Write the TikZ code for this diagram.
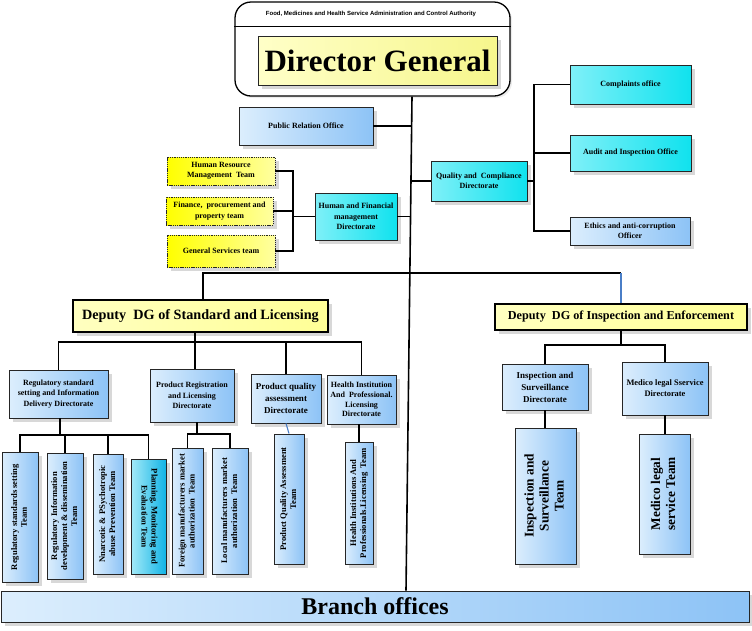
\documentclass[tikz,border=0pt]{standalone}
\usepackage{fontspec}
\setmainfont{Liberation Serif}
\newfontfamily\arialf{Liberation Sans}
\usepackage{graphicx}
\usetikzlibrary{shadows,calc}
\definecolor{bla}{HTML}{DCEEFD}
\definecolor{blb}{HTML}{8DC3F6}
\definecolor{cya}{HTML}{7FF0F8}
\definecolor{cyb}{HTML}{10E2EE}
\definecolor{pla}{HTML}{A4EAF8}
\definecolor{plb}{HTML}{12B4E6}
\definecolor{yla}{HTML}{FFFF00}
\definecolor{ylb}{HTML}{FFFFA0}
\definecolor{dpa}{HTML}{FFFFC0}
\definecolor{dpb}{HTML}{FFFF96}
\definecolor{dga}{HTML}{FFFFC8}
\definecolor{dgb}{HTML}{F6F68C}
\definecolor{thinblue}{HTML}{4A7EC7}
\newcommand{\fsz}[2]{\fontsize{#1}{#2}\selectfont}
\newcommand{\vtxt}[1]{\rotatebox{90}{\begin{tabular}{@{}c@{}}#1\end{tabular}}}
\newcommand{\vtxtr}[1]{\rotatebox{-90}{\begin{tabular}{@{}c@{}}#1\end{tabular}}}
\begin{document}
\begin{tikzpicture}[x=1pt,y=-1pt,
  sz/.style 2 args={minimum width=#1pt, minimum height=#2pt},
  base/.style={draw=black!85, line width=0.9pt, align=center, inner sep=1pt,
    font=\bfseries\fsz{8}{10.5},
    drop shadow={shadow xshift=3.5pt,shadow yshift=-3.5pt,fill=black!22,opacity=0.7}},
  bluebox/.style={base, left color=bla, right color=blb},
  cyanbox/.style={base, left color=cya, right color=cyb},
  planbox/.style={base, left color=pla, right color=plb},
  yelbox/.style={base, dash pattern=on 1.3pt off 0.9pt, left color=yla, right color=ylb},
  deputy/.style={base, draw=black, line width=2.6pt, left color=dpa, right color=dpb},
  vteam/.style={bluebox, font=\bfseries\fsz{8.6}{10}},
  conn/.style={line width=1.7pt, black},
  thinconn/.style={line width=1.1pt, thinblue}]
\useasboundingbox (0,0) rectangle (752,630);

% top block
\node[draw=black, line width=1.3pt, rounded corners=16pt, fill=white, sz={275}{94},
  drop shadow={shadow xshift=2pt,shadow yshift=-2pt,fill=black!15}] (top) at (372.5,49) {};
\coordinate (tl) at (372.5,26);
\draw[line width=0.8pt] (top.west |- tl) -- (top.east |- tl);
\node[font=\arialf\bfseries\fsz{6}{7}] (title) at (371,14) {Food, Medicines and Health Service Administration and Control Authority};
\node[base, left color=dga, right color=dgb, line width=0.8pt, sz={239}{49}, font=\bfseries\fsz{31}{34}] (dg) at (377.5,60.5) {Director General};

% upper offices
\node[bluebox, sz={134}{38}] (pr) at (306,126) {Public Relation Office};
\node[cyanbox, sz={96}{40}] (qc) at (479,181) {Quality and\ \ Compliance\\Directorate};
\node[cyanbox, sz={121}{39}] (comp) at (630.5,84.5) {Complaints office};
\node[cyanbox, sz={121}{36}] (audit) at (630.5,153) {Audit and Inspection Office};
\node[bluebox, sz={120}{28}] (ethics) at (630,231) {Ethics and anti-corruption\\Officer};
\node[cyanbox, sz={82}{47}] (hf) at (356,216.5) {Human and Financial\\management\\Directorate};
\node[yelbox, sz={108}{28}] (hr) at (221,171) {Human Resource\\Management\ \ Team};
\node[yelbox, sz={107}{28}] (fin) at (219.5,211) {Finance,\ \ procurement and\\property team};
\node[yelbox, sz={108}{32}] (gen) at (221,251) {General Services team};

% deputies
\node[deputy, sz={255}{32}, font=\bfseries\fsz{14.2}{16}] (dsl) at (200.5,316) {Deputy\ \ DG of Standard and Licensing};
\node[deputy, sz={252}{26}, font=\bfseries\fsz{12.2}{14}] (die) at (621,317) {Deputy\ \ DG of Inspection and Enforcement};

% directorates
\node[bluebox, sz={99}{48}] (rs) at (58.5,394) {Regulatory standard\\setting and Information\\Delivery Directorate};
\node[bluebox, sz={84}{53}] (prl) at (192,395.5) {Product Registration\\and Licensing\\Directorate};
\node[bluebox, sz={70}{49}, font=\bfseries\fsz{9}{12}] (pq) at (286,398.5) {Product quality\\assessment\\Directorate};
\node[bluebox, sz={69}{49}, font=\bfseries\fsz{8}{9.8}] (hi) at (361.5,399.5) {Health Institution\\And\ \ Professional.\\Licensing\\Directorate};
\node[bluebox, sz={86}{46}, font=\bfseries\fsz{9}{12}] (isd) at (545,387) {Inspection and\\Surveillance\\Directorate};
\node[bluebox, sz={86}{53}, font=\bfseries\fsz{8.4}{11}] (mld) at (665,388.5) {Medico legal Sservice\\Directorate};

% teams
\node[vteam, sz={36}{130}] (t1) at (20,517) {\vtxt{Regulatory standards setting\\Team}};
\node[vteam, sz={36}{126}] (t2) at (65,516) {\vtxt{Regulatory Information\\development \& dissemination\\Team}};
\node[vteam, sz={30}{120}] (t3) at (108,514) {\vtxt{Nnarcotic \& PSychotropic\\abuse Prevention Team}};
\node[planbox, sz={35}{115}, font=\bfseries\fsz{8.6}{10}] (t4) at (148.5,516.5) {\vtxtr{Planning, Monitoring and\\Evaluation Team}};
\node[vteam, sz={31}{126}] (t5) at (187.5,511) {\vtxt{Foreign manufacturers market\\authorization\ \ Team}};
\node[vteam, sz={36}{126}] (t6) at (230,511) {\vtxt{Local manufacturers market\\authorization\ \ Team}};
\node[vteam, sz={30}{130}] (t7) at (289,499) {\vtxt{Product Quality Assessment\\Team}};
\node[vteam, sz={28}{122}] (t8) at (359,503) {\vtxt{Health Institutions And\\Professionals.Licensing\ \ Team}};
\node[vteam, sz={61}{136}, font=\bfseries\fsz{13.3}{15}] (t9) at (545.5,496) {\vtxt{Inspection and\\Surveillance\\Team}};
\node[vteam, sz={51}{120}, font=\bfseries\fsz{13.3}{15}] (t10) at (664.5,494) {\vtxt{Medico legal\\service Team}};

% branch offices
\node[bluebox, sz={748}{31}, font=\bfseries\fsz{24}{26}] (branch) at (375,606.5) {Branch offices};

% main line
\coordinate (m0) at ([xshift=39.5pt]top.south);
\coordinate (m1) at ([xshift=31pt]branch.north);
\draw[line width=1.6pt] (m0) -- (m1);

% upper connectors
\draw[conn] (pr.east) -- (pr.east -| m0);
\draw[conn] (qc.west) -- (qc.west -| m0);
\draw[conn] (hf.east) -- ([xshift=-1pt]hf.east -| m0);
\coordinate (qb) at (534,181);
\draw[conn] (qc.east) -- (qc.east -| qb);
\draw[conn] (comp.west) -- (comp.west -| qb) -- (ethics.west -| qb) -- (ethics.west);
\draw[conn] (audit.west) -- (audit.west -| qb);
\coordinate (hb) at (293,216.5);
\draw[conn] (hr.east) -- (hr.east -| hb) -- (gen.east -| hb) -- (gen.east);
\draw[conn] (fin.east) -- (fin.east -| hb);
\draw[conn] (hb) -- (hf.west);

% deputies bar
\coordinate (dj) at (410,273);
\coordinate (dl) at (203,273);
\draw[conn] (dl |- dsl.north) -- (dl) -- (dj -| die.north);
\draw[thinconn] (dj -| die.north) -- (die.north);

% standard & licensing subtree
\coordinate (sb) at (195,342);
\draw[conn] (sb |- dsl.south) -- (sb);
\draw[conn] (rs.north) -- (rs.north |- sb) -- (hi.north |- sb) -- (hi.north);
\draw[conn] (sb) -- (sb |- prl.north);
\draw[conn] (pq.north |- sb) -- (pq.north);

% inspection subtree
\coordinate (ib) at (620,345);
\draw[conn] (die.south) -- (die.south |- ib);
\draw[conn] (isd.north) -- (isd.north |- ib) -- (mld.north |- ib) -- (mld.north);

% team connectors
\coordinate (rb) at (60,435);
\draw[conn] (rb |- rs.south) -- (rb);
\draw[conn] (t1.north) -- (t1.north |- rb) -- (t4.north |- rb) -- (t4.north);
\draw[conn] (t2.north |- rb) -- (t2.north);
\draw[conn] (t3.north |- rb) -- (t3.north);
\coordinate (pb) at (197,434);
\draw[conn] (pb |- prl.south) -- (pb);
\draw[conn] (t5.north) -- (t5.north |- pb) -- (t6.north |- pb) -- (t6.north);
\draw[thinconn] (pq.south) -- (t7.north);
\draw[conn] (hi.south -| t8.north) -- (t8.north);
\draw[conn] (isd.south) -- (isd.south |- t9.north);
\draw[conn] (mld.south) -- (mld.south |- t10.north);
\end{tikzpicture}
\end{document}
